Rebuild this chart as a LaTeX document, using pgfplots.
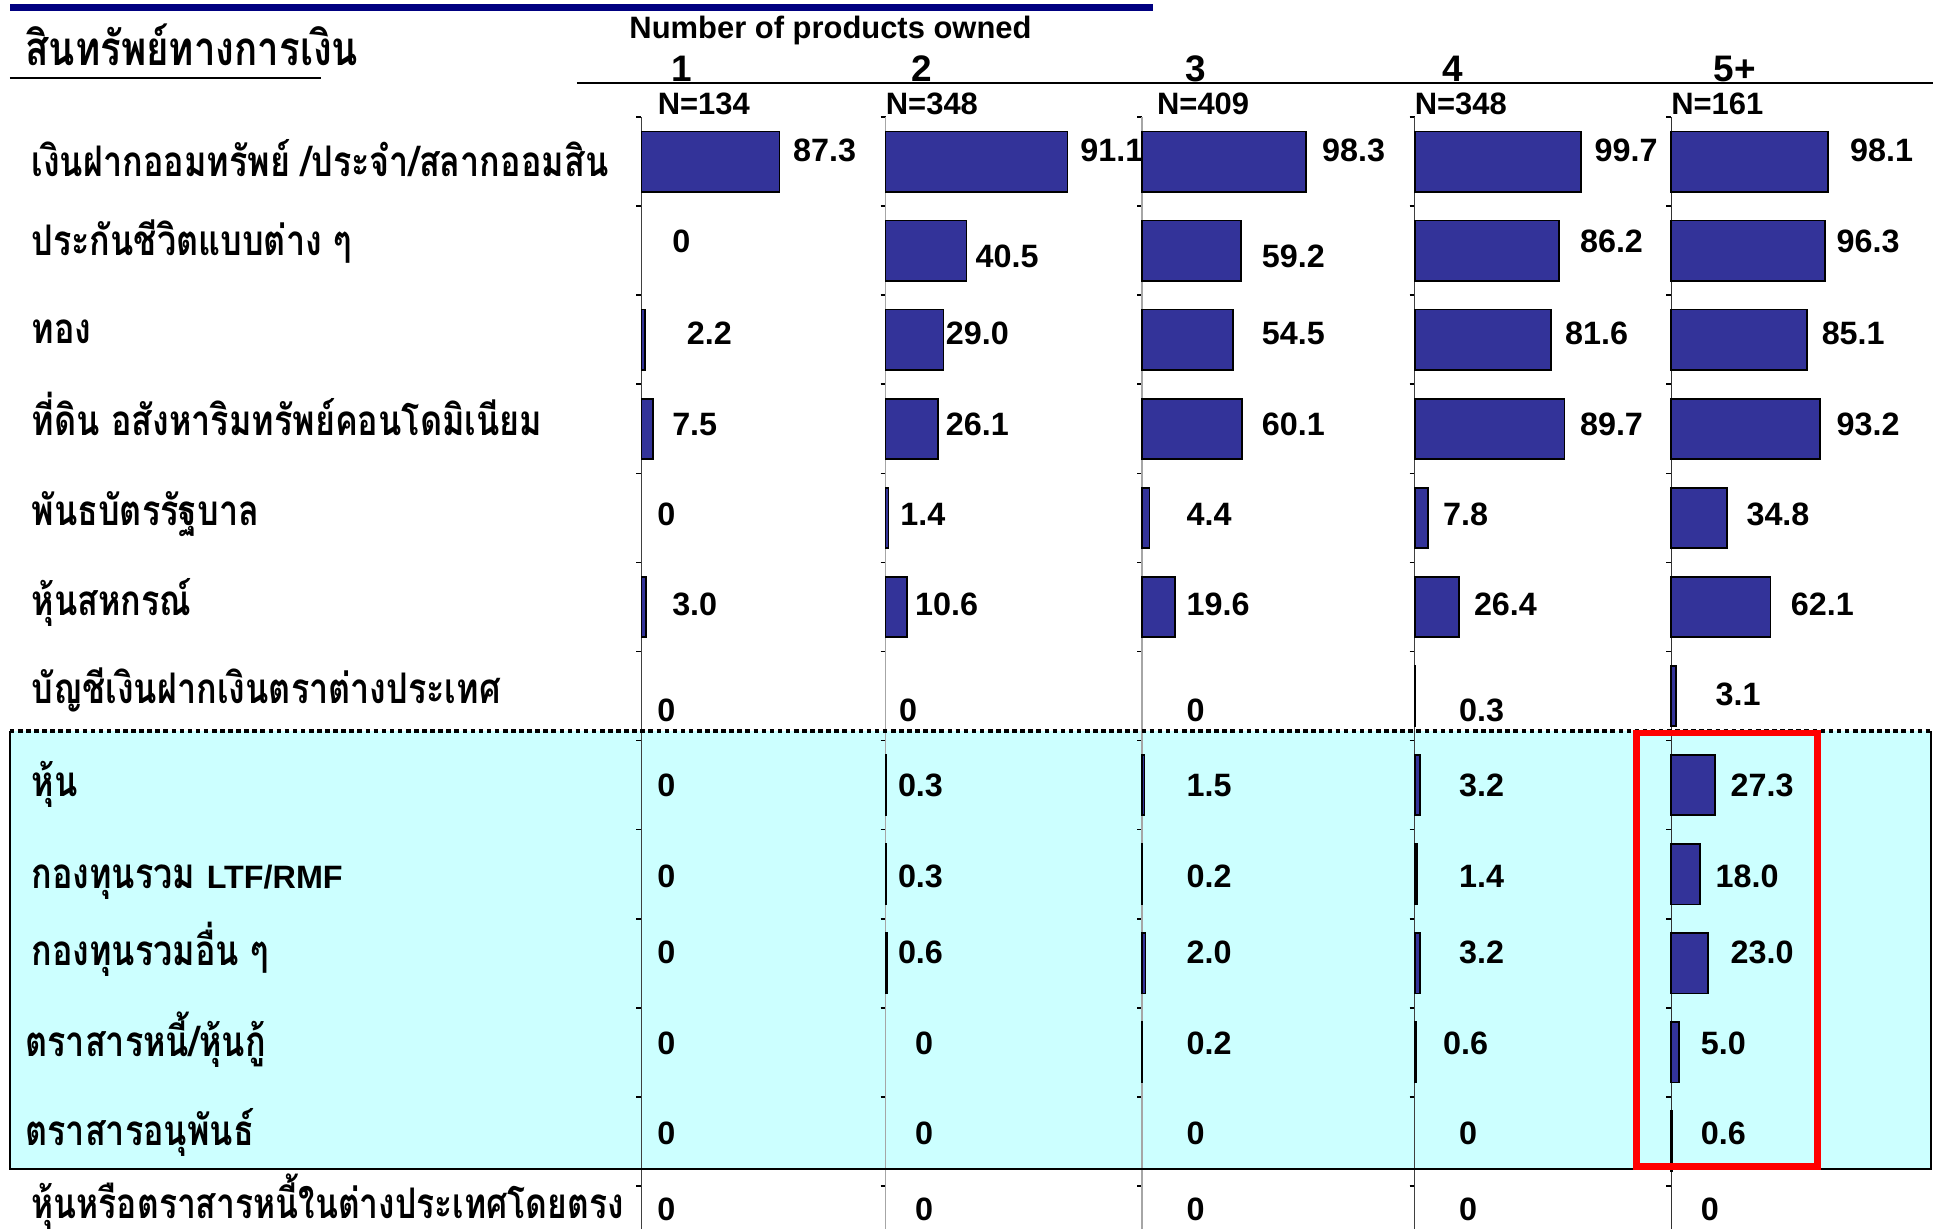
\documentclass[border=0pt]{standalone}
\usepackage{fontspec}
\usepackage{pgfplots}
\usepackage{pgfplotstable}
\pgfplotsset{compat=1.18}
\setmainfont{Liberation Sans}
\newfontfamily\thai[Script=Thai, FakeStretch=0.81]{Loma}
\definecolor{barblue}{RGB}{51,51,153}
\definecolor{topnavy}{RGB}{0,0,128}
\definecolor{bgcyan}{RGB}{204,255,255}
\newcommand\vfont{\fontsize{9.2}{10}\selectfont\bfseries}
\newcommand\rowfont{\thai\fontsize{12}{13}\selectfont\bfseries}

% row, value, label x / y (axis units), label text
\pgfplotstableread{
row v lx ly lab
1 87.3 95.9 0.875 87.3
2 0 19.5 1.89 0
3 2.2 28.8 2.93 2.2
4 7.5 19.5 3.95 7.5
5 0 10.1 4.96 0
6 3.0 19.5 5.97 3.0
7 0 10.1 7.16 0
8 0 10.1 8.0 0
9 0 10.1 9.02 0
10 0 10.1 9.88 0
11 0 10.1 10.9 0
12 0 10.1 11.91 0
13 0 10.1 12.76 0
}\tA
\pgfplotstableread{
row v lx ly lab
1 91.1 97.5 0.875 91.1
2 40.5 45.1 2.06 40.5
3 29.0 30.2 2.93 29.0
4 26.1 30.2 3.95 26.1
5 1.4 7.4 4.96 1.4
6 10.6 14.8 5.97 10.6
7 0 6.8 7.16 0
8 0.3 6.2 8.0 0.3
9 0.3 6.2 9.02 0.3
10 0.6 6.2 9.88 0.6
11 0 14.8 10.9 0
12 0 14.8 11.91 0
13 0 14.8 12.76 0
}\tB
\pgfplotstableread{
row v lx ly lab
1 98.3 108.1 0.875 98.3
2 59.2 71.9 2.06 59.2
3 54.5 71.9 2.93 54.5
4 60.1 71.9 3.95 60.1
5 4.4 26.7 4.96 4.4
6 19.6 26.7 5.97 19.6
7 0 26.7 7.16 0
8 1.5 26.7 8.0 1.5
9 0.2 26.7 9.02 0.2
10 2.0 26.7 9.88 2.0
11 0.2 26.7 10.9 0.2
12 0 26.7 11.91 0
13 0 26.7 12.76 0
}\tC
\pgfplotstableread{
row v lx ly lab
1 99.7 107.8 0.875 99.7
2 86.2 99.0 1.89 86.2
3 81.6 90.1 2.93 81.6
4 89.7 99.0 3.95 89.7
5 7.8 17.0 4.96 7.8
6 26.4 35.5 5.97 26.4
7 0.3 26.6 7.16 0.3
8 3.2 26.6 8.0 3.2
9 1.4 26.6 9.02 1.4
10 3.2 26.6 9.88 3.2
11 0.6 17.0 10.9 0.6
12 0 26.6 11.91 0
13 0 26.6 12.76 0
}\tD
\pgfplotstableread{
row v lx ly lab
1 98.1 112.0 0.875 98.1
2 96.3 103.5 1.89 96.3
3 85.1 94.2 2.93 85.1
4 93.2 103.5 3.95 93.2
5 34.8 47.1 4.96 34.8
6 62.1 74.9 5.97 62.1
7 3.1 27.8 6.98 3.1
8 27.3 37.1 8.0 27.3
9 18.0 27.8 9.02 18.0
10 23.0 37.1 9.88 23.0
11 5.0 18.5 10.9 5.0
12 0.6 18.5 11.91 0.6
13 0 18.5 12.76 0
}\tE

\pgfplotsset{
  panel/.style={
    scale only axis, height=11.113cm, anchor=north west,
    xmin=0, ymin=0.5, ymax=12.98, y dir=reverse,
    axis lines*=left, x axis line style={draw=none}, axis line style={-},
    xtick=\empty, ytick={0.5,1.5,...,12.5}, yticklabels={},
    tick align=outside, major tick length=0.05cm,
    tick style={black, line width=0.5pt},
    clip=false,
  },
  bars/.style={xbar, bar width=0.68, fill=barblue, draw=black,
    line width=0.5pt, restrict x to domain=0.1:1000},
  labs/.style={draw=none, mark=none, point meta=explicit symbolic,
    nodes near coords={\rlap{\pgfplotspointmeta}},
    nodes near coords align=center,
    every node near coord/.append style={font=\vfont, inner sep=0pt}},
}

\begin{document}
\begin{tikzpicture}
\useasboundingbox (0,0) rectangle (19.34cm,-12.285cm);
\begin{scope}[x=0.012334cm, y=-0.012334cm]
  \fill[bgcyan] (8,593) rectangle (1566,948);
  \fill[topnavy] (8,3) rectangle (935,9);
  \node[anchor=base west, inner sep=0pt, font=\thai\fontsize{13.5}{14}\selectfont\bfseries] at (20,53) {สินทรัพย์ทางการเงิน};
  \draw[line width=0.6pt] (8,63) -- (260,63);
  \node[anchor=base west, inner sep=0pt, font=\fontsize{8.8}{10}\selectfont\bfseries] at (510,31) {Number of products owned};
  \draw[line width=0.55pt] (468,67) -- (1568,67);
  \foreach \x/\t in {553/1,748/2,970/3,1178/4,1407/5+}
    \node[anchor=base, inner sep=0pt, font=\fontsize{10.5}{11}\selectfont\bfseries] at (\x,66) {\t};
  \foreach \x/\t in {533/134,718/348,938/409,1147/348,1355/161}
    \node[anchor=base west, inner sep=0pt, font=\fontsize{8.8}{10}\selectfont\bfseries] at (\x,93) {N=\t};
  \foreach \x/\y/\t in {25/143/{เงินฝากออมทรัพย์ /ประจำ/สลากออมสิน},
      25/207/{ประกันชีวิตแบบต่าง ๆ}, 25/279/{ทอง},
      25/353/{ที่ดิน อสังหาริมทรัพย์คอนโดมิเนียม},
      25/426/{พันธบัตรรัฐบาล}, 25/499/{หุ้นสหกรณ์},
      25/571/{บัญชีเงินฝากเงินตราต่างประเทศ}, 25/646/{หุ้น},
      25/783/{กองทุนรวมอื่น ๆ}, 20/857/{ตราสารหนี้/หุ้นกู้},
      20/929/{ตราสารอนุพันธ์}}
    \node[anchor=base west, inner sep=0pt, font=\rowfont] at (\x,\y) {\t};
  \node[anchor=base west, inner sep=0pt, font=\rowfont] at (25,721)
    {กองทุนรวม {\rmfamily\fontsize{9.2}{10}\selectfont\bfseries LTF/RMF}};
  \node[anchor=base west, inner sep=0pt, font=\rowfont, xscale=0.985] at (25,988)
    {หุ้นหรือตราสารหนี้ในต่างประเทศโดยตรง};
\end{scope}

\begin{axis}[panel, at={(6.414cm,-1.172cm)}, width=2.442cm, xmax=154.3,
  y axis line style={black!75}]
  \addplot[bars] table[x=v, y=row] {\tA};
  \addplot[labs] table[x=lx, y=ly, meta=lab] {\tA};
\end{axis}
\begin{axis}[panel, at={(8.856cm,-1.172cm)}, width=2.565cm, xmax=128.4,
  y axis line style={black!35}]
  \addplot[bars] table[x=v, y=row] {\tB};
  \addplot[labs] table[x=lx, y=ly, meta=lab] {\tB};
\end{axis}
\begin{axis}[panel, at={(11.421cm,-1.172cm)}, width=2.726cm, xmax=163.7,
  y axis line style={black!35}]
  \addplot[bars] table[x=v, y=row] {\tC};
  \addplot[labs] table[x=lx, y=ly, meta=lab] {\tC};
\end{axis}
\begin{axis}[panel, at={(14.147cm,-1.172cm)}, width=2.565cm, xmax=153.6,
  y axis line style={black!75}]
  \addplot[bars] table[x=v, y=row] {\tD};
  \addplot[labs] table[x=lx, y=ly, meta=lab] {\tD};
\end{axis}
\begin{axis}[panel, at={(16.713cm,-1.172cm)}, width=2.627cm, xmax=164.5,
  y axis line style={black!80}]
  \addplot[bars] table[x=v, y=row] {\tE};
  \addplot[labs] table[x=lx, y=ly, meta=lab] {\tE};
\end{axis}

\begin{scope}[x=0.012334cm, y=-0.012334cm]
  \draw[line width=0.6pt] (8,593) -- (8,948) -- (1566,948) -- (1566,593);
  \draw[line width=1.1pt, dash pattern=on 1.3pt off 1.0pt] (8,593) -- (1566,593);
  \draw[red, line width=1.9pt] (1327.5,594.5) rectangle (1474,946);
\end{scope}
\end{tikzpicture}
\end{document}
